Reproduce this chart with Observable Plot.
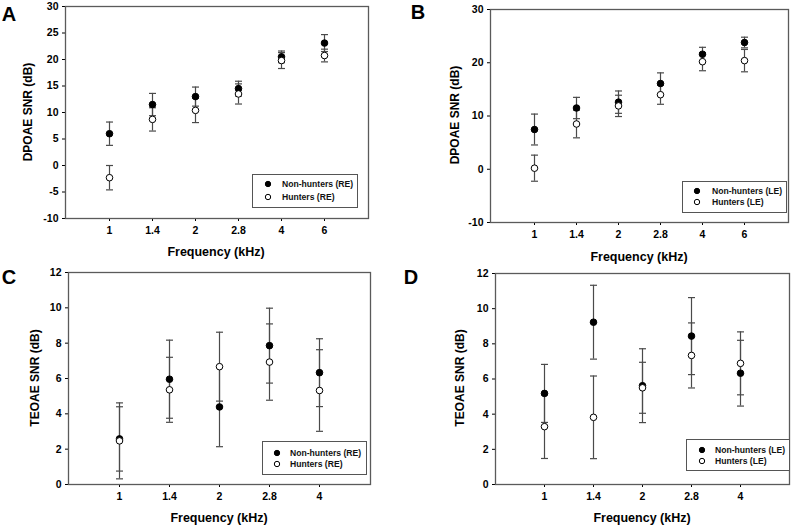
<!DOCTYPE html>
<html>
<head>
<meta charset="utf-8">
<script src="https://cdn.jsdelivr.net/npm/d3@7"></script>
<script src="https://cdn.jsdelivr.net/npm/@observablehq/plot@0.6"></script>
<style>
  html, body { margin: 0; padding: 0; background: #fff; }
  #root { position: relative; width: 800px; height: 527px; overflow: hidden; font-family: "Liberation Sans", Arial, sans-serif; font-weight: bold; color: #000; }
  .abs { position: absolute; }
  .lbl { position: absolute; white-space: nowrap; transform: translate(-50%, -50%); }
  .leg { position: absolute; border: 1px solid #555; box-sizing: border-box; background: #fff; }
</style>
</head>
<body>
<div id="root"></div>
<script>
// ---------- data ----------
const freqDP = ["1", "1.4", "2", "2.8", "4", "6"];
const freqTE = ["1", "1.4", "2", "2.8", "4"];

// Panel A: DPOAE, right ear
const aNonMean = [6.0, 11.5, 13.0, 14.5, 20.5, 23.1];
const aNonErr  = [2.2, 2.1, 1.8, 1.4, 1.1, 1.6];
const aHunMean = [-2.3, 8.7, 10.4, 13.5, 19.8, 20.75];
const aHunErr  = [2.3, 2.2, 2.3, 1.9, 1.5, 1.2];

// Panel B: DPOAE, left ear
const bNonMean = [7.46, 11.5, 12.6, 16.1, 21.6, 23.8];
const bNonErr  = [2.9, 2.0, 2.1, 2.0, 1.3, 1.0];
const bHunMean = [0.2, 8.5, 11.9, 14.0, 20.2, 20.4];
const bHunErr  = [2.45, 2.6, 2.0, 1.8, 1.7, 2.1];

// Panel C: TEOAE, right ear
const cNonMean = [2.58, 5.96, 4.39, 7.86, 6.33];
const cNonErr  = [1.82, 2.21, 2.25, 2.12, 1.92];
const cHunMean = [2.47, 5.36, 6.67, 6.93, 5.32];
const cHunErr  = [2.15, 1.84, 1.95, 2.16, 2.31];

// Panel D: TEOAE, left ear
const dNonMean = [5.18, 9.23, 5.62, 8.44, 6.33];
const dNonErr  = [1.65, 2.1, 2.1, 2.19, 1.87];
const dHunMean = [3.29, 3.82, 5.5, 7.34, 6.89];
const dHunErr  = [1.81, 2.35, 1.45, 1.85, 1.79];

const dpTicksA = [-10, -5, 0, 5, 10, 15, 20, 25, 30];
const dpTicksB = [-10, 0, 10, 20, 30];
const teTicks  = [0, 2, 4, 6, 8, 10, 12];

const xTitle = "Frequency (kHz)";
const dpTitle = "DPOAE SNR (dB)";
const teTitle = "TEOAE SNR (dB)";

// ---------- helpers ----------
function rows(freqs, mean, err) {
  return freqs.map((f, i) => ({ f, m: mean[i], lo: mean[i] - err[i], hi: mean[i] + err[i] }));
}

// horizontal cap symbol for error bars
const capSymbol = {
  draw(context, size) {
    context.moveTo(-3.5, 0);
    context.lineTo(3.5, 0);
  }
};

function panel(cfg) {
  const non = rows(cfg.freqs, cfg.nonMean, cfg.nonErr);
  const hun = rows(cfg.freqs, cfg.hunMean, cfg.hunErr);
  const all = non.concat(hun);
  const barColor = "#4a4a4a";
  return Plot.plot({
    width: cfg.width, height: cfg.height,
    marginLeft: cfg.ml, marginRight: cfg.mr, marginTop: cfg.mt, marginBottom: cfg.mb,
    style: { fontFamily: "'Liberation Sans', Arial, sans-serif", fontSize: "10.5px", fontWeight: "bold", color: "#000", background: "transparent", overflow: "visible" },
    x: { type: "point", domain: cfg.freqs, padding: 1, label: null, tickSize: 3, tickPadding: 5 },
    y: { domain: cfg.yDomain, ticks: cfg.yTicks, label: null, tickSize: 3, tickPadding: 4, tickFormat: d => String(d) },
    marks: [
      Plot.frame({ stroke: "#5a5a5a", strokeWidth: 1.3 }),
      Plot.ruleX(all, { x: "f", y1: "lo", y2: "hi", stroke: barColor, strokeWidth: 1.2 }),
      Plot.dot(all, { x: "f", y: "lo", symbol: capSymbol, r: 3, fill: "none", stroke: barColor, strokeWidth: 1.2 }),
      Plot.dot(all, { x: "f", y: "hi", symbol: capSymbol, r: 3, fill: "none", stroke: barColor, strokeWidth: 1.2 }),
      Plot.dot(non, { x: "f", y: "m", r: 3.3, fill: "#000", stroke: "#000", strokeWidth: 1 }),
      Plot.dot(hun, { x: "f", y: "m", r: 3.3, fill: "#fff", stroke: "#000", strokeWidth: 1 })
    ]
  });
}

const root = document.getElementById("root");

function place(el, left, top) {
  const d = document.createElement("div");
  d.className = "abs";
  d.style.left = left + "px";
  d.style.top = top + "px";
  d.appendChild(el);
  root.appendChild(d);
}

function label(text, cx, cy, size, rotate) {
  const d = document.createElement("div");
  d.className = "lbl";
  d.textContent = text;
  d.style.left = cx + "px";
  d.style.top = cy + "px";
  d.style.fontSize = size + "px";
  if (rotate) d.style.transform = "translate(-50%, -50%) rotate(-90deg)";
  root.appendChild(d);
}

function legend(box, items) {
  const d = document.createElement("div");
  d.className = "leg";
  d.style.left = box.x + "px";
  d.style.top = box.y + "px";
  d.style.width = box.w + "px";
  d.style.height = box.h + "px";
  const ns = "http://www.w3.org/2000/svg";
  const svg = document.createElementNS(ns, "svg");
  svg.setAttribute("width", box.w);
  svg.setAttribute("height", box.h);
  svg.style.position = "absolute";
  svg.style.left = "-1px";
  svg.style.top = "-1px";
  svg.style.overflow = "visible";
  items.forEach(it => {
    const c = document.createElementNS(ns, "circle");
    c.setAttribute("cx", box.dotX);
    c.setAttribute("cy", it.y);
    c.setAttribute("r", 2.7);
    c.setAttribute("fill", it.fill);
    c.setAttribute("stroke", "#000");
    c.setAttribute("stroke-width", 1);
    svg.appendChild(c);
    const t = document.createElementNS(ns, "text");
    t.setAttribute("x", box.textX);
    t.setAttribute("y", it.y);
    t.setAttribute("dy", "0.35em");
    t.setAttribute("font-size", "8.6px");
    t.setAttribute("font-weight", "bold");
    t.setAttribute("fill", "#111");
    t.setAttribute("font-family", "'Liberation Sans', Arial, sans-serif");
    t.textContent = it.text;
    svg.appendChild(t);
  });
  d.appendChild(svg);
  root.appendChild(d);
}

// ---------- panels ----------
place(panel({ freqs: freqDP, nonMean: aNonMean, nonErr: aNonErr, hunMean: aHunMean, hunErr: aHunErr,
  yDomain: [-10, 30], yTicks: dpTicksA, width: 400, height: 263, ml: 65, mr: 32, mt: 6, mb: 45 }), 0, 0);
place(panel({ freqs: freqDP, nonMean: bNonMean, nonErr: bNonErr, hunMean: bHunMean, hunErr: bHunErr,
  yDomain: [-10, 30], yTicks: dpTicksB, width: 400, height: 263, ml: 90, mr: 12, mt: 9, mb: 41 }), 400, 0);
place(panel({ freqs: freqTE, nonMean: cNonMean, nonErr: cNonErr, hunMean: cHunMean, hunErr: cHunErr,
  yDomain: [0, 12], yTicks: teTicks, width: 400, height: 264, ml: 68, mr: 30, mt: 9, mb: 43 }), 0, 263);
place(panel({ freqs: freqTE, nonMean: dNonMean, nonErr: dNonErr, hunMean: dHunMean, hunErr: dHunErr,
  yDomain: [0, 12], yTicks: teTicks, width: 400, height: 264, ml: 95, mr: 11, mt: 10, mb: 43 }), 400, 263);

// ---------- text ----------
label("A", 9, 14, 20);
label("B", 418, 12, 20);
label("C", 9, 277, 20);
label("D", 411, 277, 20);

label(xTitle, 216, 252, 12.5);
label(xTitle, 639, 257, 12.5);
label(xTitle, 219, 518, 12.5);
label(xTitle, 642, 518, 12.5);

label(dpTitle, 28, 112, 12, true);
label(dpTitle, 455, 115, 12, true);
label(teTitle, 35, 378, 12, true);
label(teTitle, 460, 378, 12, true);

// ---------- legends ----------
legend({ x: 252, y: 174, w: 106, h: 34, dotX: 16, textX: 30 }, [
  { y: 10, fill: "#000", text: "Non-hunters (RE)" },
  { y: 23, fill: "#fff", text: "Hunters (RE)" }
]);
legend({ x: 682, y: 181, w: 105, h: 32, dotX: 15, textX: 30 }, [
  { y: 10, fill: "#000", text: "Non-hunters (LE)" },
  { y: 21, fill: "#fff", text: "Hunters (LE)" }
]);
legend({ x: 262, y: 441, w: 105, h: 34, dotX: 15, textX: 28 }, [
  { y: 12, fill: "#000", text: "Non-hunters (RE)" },
  { y: 23, fill: "#fff", text: "Hunters (RE)" }
]);
legend({ x: 686, y: 439, w: 104, h: 32, dotX: 16, textX: 29 }, [
  { y: 11, fill: "#000", text: "Non-hunters (LE)" },
  { y: 22, fill: "#fff", text: "Hunters (LE)" }
]);
</script>
</body>
</html>
